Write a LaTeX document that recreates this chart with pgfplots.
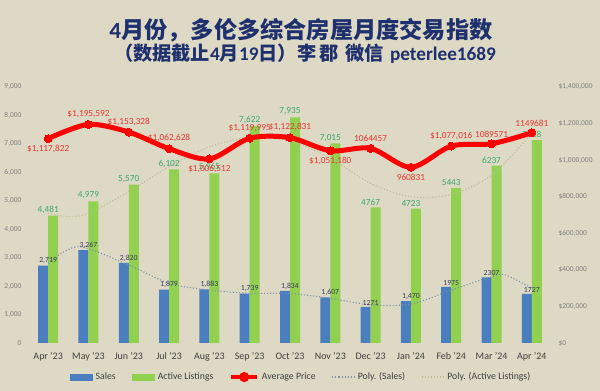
\documentclass[border=0pt]{standalone}
\usepackage{pgfplots}
\pgfplotsset{compat=1.18}
\usepackage{fontspec}
\setmainfont{Carlito}
\newfontfamily\cjk{Noto Sans CJK SC}
\definecolor{bg}{RGB}{221,217,196}
\definecolor{salesblue}{RGB}{74,126,190}
\definecolor{listgreen}{RGB}{146,208,80}
\definecolor{pricered}{RGB}{255,0,0}
\definecolor{salelab}{RGB}{55,60,90}
\definecolor{listlab}{RGB}{60,168,110}
\definecolor{pricelab}{RGB}{232,56,48}
\definecolor{ticklab}{RGB}{128,128,128}
\definecolor{xlab}{RGB}{64,64,64}
\definecolor{titleblue}{RGB}{31,48,110}
\definecolor{polysales}{RGB}{125,145,170}
\definecolor{polylist}{RGB}{185,192,150}
\begin{document}
\begin{tikzpicture}
\path[fill=bg, use as bounding box] (0,0) rectangle (600bp,391bp);
\node[text=titleblue, font=\fontsize{23.3}{25}\selectfont\bfseries, inner sep=0pt] at (301bp,361bp) {4{\cjk 月份，多伦多综合房屋月度交易指数}};
\node[text=titleblue, font=\fontsize{19.3}{21}\selectfont\bfseries, inner sep=0pt] at (305bp,337bp) {{\cjk （数据截止}4{\cjk 月}19{\cjk 日）李\,郡\,\,微信}\,\,peterlee1689};

\begin{axis}[
  at={(28bp,48bp)}, anchor=south west,
  scale only axis, width=524bp, height=256bp,
  xmin=-0.5, xmax=12.5, ymin=0, ymax=9000,
  axis line style={draw=none}, major tick length=0,
  xtick={0,...,12},
  xticklabels={Apr '23,May '23,Jun '23,Jul '23,Aug '23,Sep '23,Oct '23,Nov '23,Dec '23,Jan '24,Feb '24,Mar '24,Apr '24},
  xticklabel style={font=\fontsize{10}{11}\selectfont, text=xlab, yshift=-6bp},
  ytick={0,1000,...,9000},
  /pgf/number format/assume math mode=true,
  /pgf/number format/1000 sep={,},
  yticklabel style={font=\fontsize{7.5}{8}\selectfont, text=ticklab, xshift=-3bp},
  legend columns=5,
  legend style={at={(0.521,-0.133)}, anchor=center, draw=none, fill=none,
    font=\fontsize{9.8}{11}\selectfont, text=xlab,
    /tikz/every even column/.append style={column sep=14bp},
    /tikz/every odd column/.append style={column sep=1bp}},
]
\addplot[fill=salesblue, draw=none, ybar, bar width=10bp, bar shift=-5bp,
  legend image code/.code={\fill[salesblue] (0bp,-3.5bp) rectangle (23bp,3.5bp);},
  point meta=explicit symbolic, nodes near coords,
  every node near coord/.append style={font=\fontsize{7.8}{8}\selectfont, text=salelab, anchor=south, inner sep=1.5bp}]
coordinates {(0,2719)[2,719] (1,3267)[3,267] (2,2820)[2,820] (3,1879)[1,879] (4,1883)[1,883] (5,1739)[1,739] (6,1834)[1,834] (7,1607)[1,607] (8,1271)[1271] (9,1470)[1,470] (10,1975)[1975] (11,2307)[2307] (12,1727)[1727]};
\addlegendentry{Sales}
\addplot[fill=listgreen, draw=none, ybar, bar width=10bp, bar shift=5bp,
  legend image code/.code={\fill[listgreen] (0bp,-3.5bp) rectangle (23bp,3.5bp);},
  point meta=explicit symbolic, nodes near coords,
  every node near coord/.append style={font=\fontsize{9.3}{10}\selectfont, text=listlab, anchor=south, inner sep=2bp}]
coordinates {(0,4481)[4,481] (1,4979)[4,979] (2,5570)[5,570] (3,6102)[6,102] (4,5965)[5,965] (5,7622)[7,622] (6,7935)[7,935] (7,7015)[7,015] (8,4767)[4767] (9,4723)[4723] (10,5443)[5443] (11,6237)[6237] (12,7128)[7128]};
\addlegendentry{Active Listings}
\addlegendimage{pricered, line width=3bp, mark=*, mark size=2.5bp,
  legend image code/.code={\draw[pricered, line width=3.5bp] (0bp,0bp) -- (26bp,0bp); \fill[pricered] (13bp,0bp) circle (3.5bp);}}
\addlegendentry{Average Price}
\addplot[polysales, dotted, line width=1.1pt, smooth, no marks,
  legend image code/.code={\draw[polysales, dotted, line width=1.1pt] (0bp,0bp) -- (22bp,0bp);}]
coordinates {(0,2800) (0.75,3385) (2,2740) (3,2100) (4,1860) (5,1750) (6,1740) (7,1570) (8,1340) (9,1370) (10,1860) (11,2330) (11.35,2390) (12,1920)};
\addlegendentry{Poly. (Sales)}
\addplot[polylist, dotted, line width=1.1pt, smooth, no marks,
  legend image code/.code={\draw[polylist, dotted, line width=1.1pt] (0bp,0bp) -- (22bp,0bp);}]
coordinates {(0,4560) (0.55,4440) (1,4560) (2,5320) (3,6200) (4,6900) (5,7230) (6,7100) (7,6490) (8,5610) (9,5140) (10,5220) (11,5900) (12,7370)};
\addlegendentry{Poly. (Active Listings)}
\end{axis}

\begin{axis}[
  at={(28bp,48bp)}, anchor=south west,
  scale only axis, width=524bp, height=256bp,
  xmin=-0.5, xmax=12.5, ymin=0, ymax=1400000,
  axis line style={draw=none}, major tick length=0,
  xtick=\empty,
  ytick={0,200000,400000,600000,800000,1000000,1200000,1400000},
  scaled y ticks=false,
  yticklabel pos=right,
  /pgf/number format/assume math mode=true,
  yticklabel={\$\pgfmathprintnumber[fixed,precision=0,1000 sep={,}]{\tick}},
  yticklabel style={font=\fontsize{7.5}{8}\selectfont, text=ticklab, xshift=3bp},
]
\addplot[pricered, line width=5bp, smooth, mark=*, mark size=4bp, mark options={fill=pricered, draw=pricered, line width=0pt}]
coordinates {(0,1117822) (1,1195592) (2,1153328) (3,1062628) (4,1006512) (5,1119995) (6,1122831) (7,1051180) (8,1064457) (9,960831) (10,1077016) (11,1089571) (12,1149681)};
\addplot[draw=none, no marks, point meta=explicit symbolic, nodes near coords,
  every node near coord/.append style={font=\fontsize{9.3}{10}\selectfont, text=pricelab, anchor=south, yshift=3bp}]
coordinates {(1,1195592)[\$1,195,592] (2,1153328)[\$1,153,328] (3,1062628)[\$1,062,628] (5,1119995)[\$1,119,995] (6,1122831)[\$1,122,831] (8,1064457)[1064457] (10,1077016)[\$1,077,016] (11,1089571)[1089571] (12,1149681)[1149681]};
\addplot[draw=none, no marks, point meta=explicit symbolic, nodes near coords,
  every node near coord/.append style={font=\fontsize{9.3}{10}\selectfont, text=pricelab, anchor=north, yshift=-3bp}]
coordinates {(0,1117822)[\$1,117,822] (4,1006512)[\$1,006,512] (7,1051180)[\$1,051,180] (9,960831)[960831]};
\end{axis}
\end{tikzpicture}
\end{document}
